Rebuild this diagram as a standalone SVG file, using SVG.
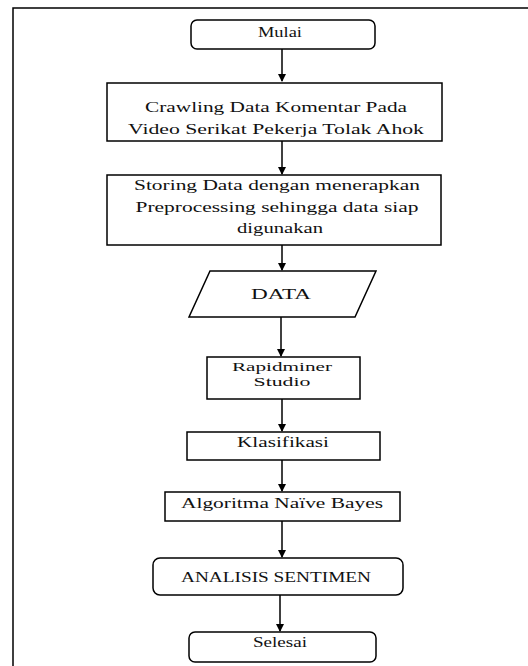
<svg xmlns="http://www.w3.org/2000/svg" width="528" height="666" viewBox="0 0 528 666">
<style>
.box{fill:#fff;stroke:#000;stroke-width:1.5}
.t{font-family:"Liberation Serif","Times New Roman",serif;font-size:14px;fill:#111;text-anchor:middle}
.s{font-size:13px}
.c{stroke:#000;stroke-width:1.5;fill:none}
</style>
<defs>
<marker id="ah" markerWidth="8" markerHeight="8" refX="7" refY="4" orient="auto" markerUnits="userSpaceOnUse">
<path d="M0,0 L8,4 L0,8 Z" fill="#000"/>
</marker>
</defs>
<rect width="528" height="666" fill="#fff"/>
<path d="M13,666 V8 H528" fill="none" stroke="#000" stroke-width="1.5"/>
<g id="connectors">
<line class="c" x1="282" y1="49" x2="282" y2="81" marker-end="url(#ah)"/>
<line class="c" x1="282" y1="141" x2="282" y2="174" marker-end="url(#ah)"/>
<line class="c" x1="282" y1="245" x2="282" y2="270" marker-end="url(#ah)"/>
<line class="c" x1="281" y1="317" x2="281" y2="356" marker-end="url(#ah)"/>
<line class="c" x1="282" y1="399" x2="282" y2="431" marker-end="url(#ah)"/>
<line class="c" x1="282" y1="460" x2="282" y2="491" marker-end="url(#ah)"/>
<line class="c" x1="282" y1="521" x2="282" y2="557" marker-end="url(#ah)"/>
<line class="c" x1="280" y1="595" x2="280" y2="631" marker-end="url(#ah)"/>
</g>
<g id="mulai">
<rect class="box" x="191" y="20" width="184" height="29" rx="6"/>
<text class="t" x="280" y="37" textLength="44" lengthAdjust="spacingAndGlyphs">Mulai</text>
</g>
<g id="crawling">
<rect class="box" x="107" y="83" width="335" height="58"/>
<text class="t" x="276" y="112" textLength="262" lengthAdjust="spacingAndGlyphs">Crawling Data Komentar Pada</text>
<text class="t" x="276" y="134" textLength="296" lengthAdjust="spacingAndGlyphs">Video Serikat Pekerja Tolak Ahok</text>
</g>
<g id="storing">
<rect class="box" x="107" y="175" width="334" height="70"/>
<text class="t" x="277" y="190" textLength="286" lengthAdjust="spacingAndGlyphs">Storing Data dengan menerapkan</text>
<text class="t" x="277" y="212" textLength="283" lengthAdjust="spacingAndGlyphs">Preprocessing sehingga data siap</text>
<text class="t" x="280" y="233" textLength="86" lengthAdjust="spacingAndGlyphs">digunakan</text>
</g>
<g id="data">
<polygon class="box" points="210,271 376,271 355,317 189,317"/>
<text class="t" x="281" y="299" textLength="60" lengthAdjust="spacingAndGlyphs">DATA</text>
</g>
<g id="rapidminer">
<rect class="box" x="207" y="357" width="153" height="42"/>
<text class="t s" x="282" y="371" textLength="100" lengthAdjust="spacingAndGlyphs">Rapidminer</text>
<text class="t s" x="282" y="386" textLength="57" lengthAdjust="spacingAndGlyphs">Studio</text>
</g>
<g id="klasifikasi">
<rect class="box" x="187" y="432" width="193" height="28"/>
<text class="t" x="283" y="447" textLength="92" lengthAdjust="spacingAndGlyphs">Klasifikasi</text>
</g>
<g id="algoritma">
<rect class="box" x="165" y="492" width="235" height="29"/>
<text class="t" x="282" y="508" textLength="202" lengthAdjust="spacingAndGlyphs">Algoritma Naïve Bayes</text>
</g>
<g id="analisis">
<rect class="box" x="153" y="558" width="250" height="37" rx="7"/>
<text class="t" x="276" y="582" textLength="190" lengthAdjust="spacingAndGlyphs">ANALISIS SENTIMEN</text>
</g>
<g id="selesai">
<rect class="box" x="189" y="632" width="187" height="30" rx="6"/>
<text class="t" x="280" y="647" textLength="54" lengthAdjust="spacingAndGlyphs">Selesai</text>
</g>
</svg>
